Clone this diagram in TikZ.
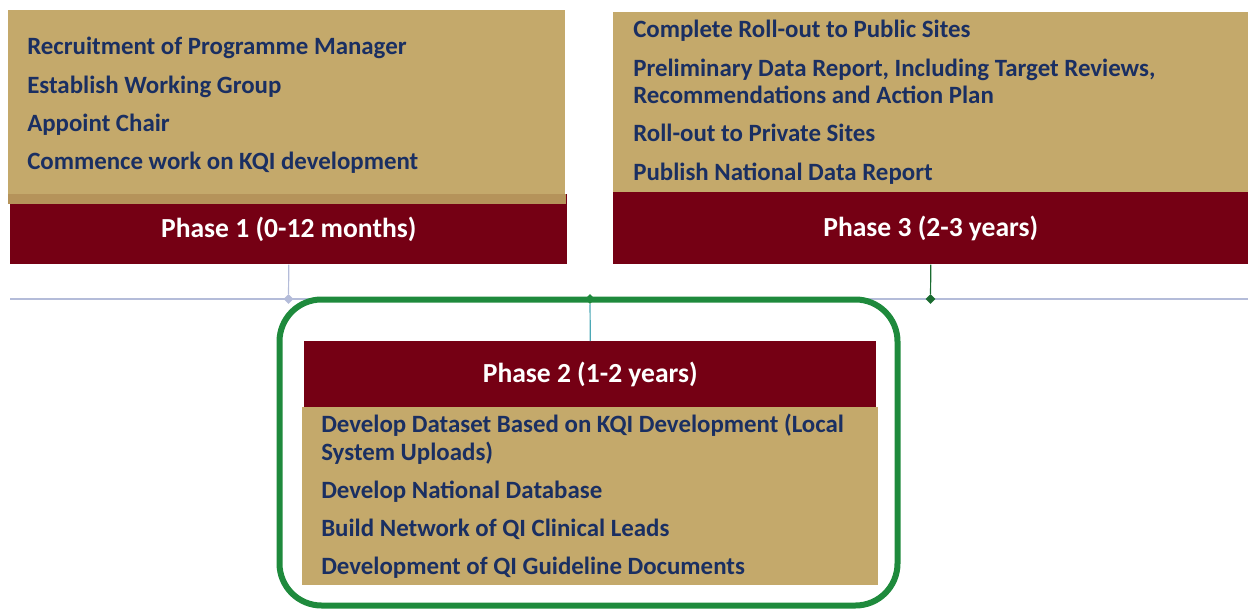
\documentclass[tikz,border=0pt]{standalone}
\usepackage{fontspec}
\setmainfont{Carlito}
\usetikzlibrary{shapes.geometric,positioning}
\definecolor{phasered}{HTML}{750014}
\definecolor{phasetan}{HTML}{C4A96B}
\definecolor{tanshade}{HTML}{B5935A}
\definecolor{itemblue}{HTML}{1A2F62}
\definecolor{linegray}{HTML}{B4BCD9}
\definecolor{framegreen}{HTML}{1E8A3C}
\definecolor{markgreen}{HTML}{1A6B30}
\definecolor{stemteal}{HTML}{4BA8B5}
\def\px{0.025cm}

\tikzset{
  tanbox/.style={rectangle, fill=phasetan, inner sep=0pt, anchor=north west},
  redbox/.style={rectangle, fill=phasered, text=white, inner sep=0pt, anchor=north west,
    font=\fontsize{19.6}{23}\selectfont\bfseries},
  item/.style={text=itemblue, inner sep=0pt, anchor=base west,
    font=\fontsize{17.7}{21}\selectfont\bfseries},
  marker/.style={diamond, inner sep=0pt, minimum size=10*\px, fill=#1},
}

\begin{document}
\begin{tikzpicture}[x=\px, y=-\px]
    \useasboundingbox (0,0) rectangle (1248,610);

    % Phase 1 (top left)
    \node[redbox, minimum width=557*\px, minimum height=70*\px] (p1head) at (10,194) {Phase 1 (0-12 months)};
    \node[tanbox, minimum width=557*\px, minimum height=193*\px] (p1box) at (8,10) {};
    \fill[tanshade] (p1box.south west) ++(0,-10) rectangle (p1box.south east);
    \foreach \y/\txt [count=\i] in {55/Recruitment of Programme Manager,
                                    94/Establish Working Group,
                                    132/Appoint Chair,
                                    170/Commence work on KQI development}
        \node[item] (p1item\i) at (27,\y) {\txt};

    % Phase 3 (top right)
    \node[redbox, minimum width=635*\px, minimum height=72*\px] (p3head) at (613,192) {Phase 3 (2-3 years)};
    \node[tanbox, minimum width=635*\px, minimum height=180*\px] (p3box) at (613,12) {};
    \foreach \y/\txt [count=\i] in {38/Complete Roll-out to Public Sites,
                                    77/{Preliminary Data Report, Including Target Reviews,},
                                    104/Recommendations and Action Plan,
                                    142/Roll-out to Private Sites,
                                    180/Publish National Data Report}
        \node[item] (p3item\i) at (633,\y) {\txt};

    % Timeline
    \coordinate (tl0) at (10,299);
    \coordinate (tl1) at (1248,299);
    \draw[linegray, line width=2*\px] (tl0) -- (tl1);

    % Highlight frame round phase 2
    \node[draw=framegreen, line width=6*\px, rounded corners=42*\px, inner sep=0pt,
          minimum width=618*\px, minimum height=306*\px] (frame) at (588.5,452.5) {};

    % Phase 2 (inside the frame)
    \node[redbox, minimum width=572*\px, minimum height=66*\px] (p2head) at (304,341) {Phase 2 (1-2 years)};
    \node[tanbox, minimum width=576*\px, minimum height=178*\px] (p2box) at (302,407) {};
    \foreach \y/\txt [count=\i] in {432/Develop Dataset Based on KQI Development (Local,
                                    460/System Uploads),
                                    498/Develop National Database,
                                    536/Build Network of QI Clinical Leads,
                                    574/Development of QI Guideline Documents}
        \node[item] (p2item\i) at (321,\y) {\txt};

    % Markers on the timeline
    \node[marker=linegray] (m1) at (288.5,299) {};
    \node[marker=framegreen] (m2) at (590,299) {};
    \node[marker=markgreen] (m3) at (930.5,299) {};

    % Stems
    \draw[linegray, line width=1.2*\px] (p1head.south) -- (m1);
    \draw[stemteal, line width=1.2*\px] (m2) -- (p2head.north);
    \draw[markgreen, line width=1.2*\px] (p3head.south) -- (m3);
\end{tikzpicture}
\end{document}
